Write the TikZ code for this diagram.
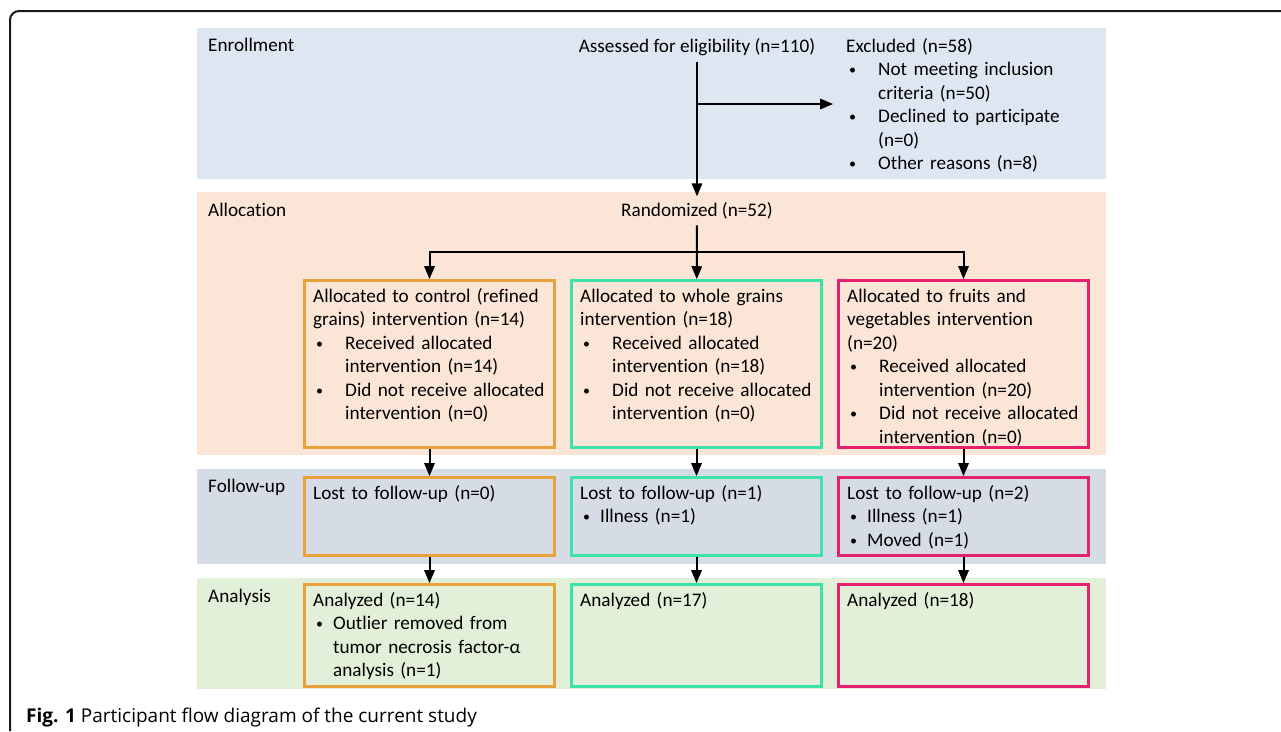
\documentclass[tikz,border=0pt]{standalone}
\usepackage{fontspec}
\setmainfont{Carlito}[Ligatures=NoCommon]
\newfontfamily\capfont{Open Sans}
\usetikzlibrary{shapes,arrows}
\usetikzlibrary{positioning}

\definecolor{enrolbg}{HTML}{DEE7F1}
\definecolor{allocbg}{HTML}{FBE5D6}
\definecolor{followbg}{HTML}{D6DCE5}
\definecolor{analysbg}{HTML}{E2F0D9}
\definecolor{ctrlcol}{HTML}{E9A23B}
\definecolor{wholecol}{HTML}{3DE2A9}
\definecolor{fruitcol}{HTML}{E5206F}

\newcommand{\bulletdot}{\raisebox{1pt}{\fontsize{14}{14}\selectfont•}}
\newcommand{\wbul}{\makebox[32pt][l]{\hspace{3pt}\bulletdot}}
\newcommand{\wind}{\hspace*{32pt}}
\newcommand{\nbul}{\makebox[20pt][l]{\hspace{3pt}\bulletdot}}
\newcommand{\tstrut}{\rule{0pt}{15pt}}

\begin{document}
\begin{tikzpicture}[x=1pt,y=-1pt]
            % flow of participants, one band per stage
            \tikzstyle{lbl} = [inner sep=0pt, font=\fontsize{19.2}{23.5}\selectfont];
            \tikzstyle{txt} = [align=left, text width=250pt, inner sep=0pt, font=\fontsize{19.2}{23.5}\selectfont];
            \tikzstyle{block} = [draw, rectangle, line width=3pt, minimum width=250pt, inner sep=0pt];
            \tikzstyle{arr} = [-triangle 45, line width=2pt];

            \useasboundingbox (0,0) rectangle (1281,731);
            \draw[line width=2pt, rounded corners=9pt, black!90] (10,731) -- (10,11) -- (1281,11);

            \fill[enrolbg] (197,28) rectangle (1106,179);
            \fill[allocbg] (197,192) rectangle (1106,455);
            \fill[followbg] (197,469) rectangle (1106,564);
            \fill[analysbg] (197,578) rectangle (1106,689);

            \node[lbl,anchor=base west] (enrol) at (208,51.5) {Enrollment};
            \node[lbl,anchor=base west] (alloc) at (208,216.5) {Allocation};
            \node[lbl,anchor=base west] (follow) at (208,492.5) {Follow-up};
            \node[lbl,anchor=base west] (analys) at (208,602) {Analysis};

            \node[lbl,anchor=base,inner sep=6pt] (assess) at (697,52) {Assessed for eligibility (n=110)};
            \node[txt,inner xsep=13pt,anchor=north west] (excl) at (833,37) {\tstrut Excluded (n=58)\\
              \wbul Not meeting inclusion\\
              \wind criteria (n=50)\\
              \wbul Declined to participate\\
              \wind (n=0)\\
              \wbul Other reasons (n=8)};
            \node[lbl,anchor=base,inner sep=6pt] (rand) at (697,216.5) {Randomized (n=52)};

            % allocation
            \node[block,draw=ctrlcol,minimum height=167pt] (a1) at (429.5,364) {};
            \node[block,draw=wholecol,minimum height=167pt] (a2) at (696.5,364) {};
            \node[block,draw=fruitcol,minimum height=167pt] (a3) at (963.5,364) {};
            \node[txt,below right=8pt and 10pt of a1.north west] (a1t) {\tstrut Allocated to control (refined\\
              grains) intervention (n=14)\\
              \wbul Received allocated\\
              \wind intervention (n=14)\\
              \wbul Did not receive allocated\\
              \wind intervention (n=0)};
            \node[txt,below right=8pt and 10pt of a2.north west] (a2t) {\tstrut Allocated to whole grains\\
              intervention (n=18)\\
              \wbul Received allocated\\
              \wind intervention (n=18)\\
              \wbul Did not receive allocated\\
              \wind intervention (n=0)};
            \node[txt,below right=8pt and 10pt of a3.north west] (a3t) {\tstrut Allocated to fruits and\\
              vegetables intervention\\
              (n=20)\\
              \wbul Received allocated\\
              \wind intervention (n=20)\\
              \wbul Did not receive allocated\\
              \wind intervention (n=0)};

            % follow-up
            \node[block,draw=ctrlcol,minimum height=78pt] (f1) at (429.5,516.5) {};
            \node[block,draw=wholecol,minimum height=78pt] (f2) at (696.5,516.5) {};
            \node[block,draw=fruitcol,minimum height=78pt] (f3) at (963.5,516.5) {};
            \node[txt,below right=8pt and 10pt of f1.north west] (f1t) {\tstrut Lost to follow-up (n=0)};
            \node[txt,below right=8pt and 10pt of f2.north west] (f2t) {\tstrut Lost to follow-up (n=1)\\
              \nbul Illness (n=1)};
            \node[txt,below right=8pt and 10pt of f3.north west] (f3t) {\tstrut Lost to follow-up (n=2)\\
              \nbul Illness (n=1)\\
              \nbul Moved (n=1)};

            % analysis
            \node[block,draw=ctrlcol,minimum height=102pt] (s1) at (429.5,635.5) {};
            \node[block,draw=wholecol,minimum height=102pt] (s2) at (696.5,635.5) {};
            \node[block,draw=fruitcol,minimum height=102pt] (s3) at (963.5,635.5) {};
            \node[txt,below right=8pt and 10pt of s1.north west] (s1t) {\tstrut Analyzed (n=14)\\
              \nbul Outlier removed from\\
              \hspace*{20pt}tumor necrosis factor-α\\
              \hspace*{20pt}analysis (n=1)};
            \node[txt,below right=8pt and 10pt of s2.north west] (s2t) {\tstrut Analyzed (n=17)};
            \node[txt,below right=8pt and 10pt of s3.north west] (s3t) {\tstrut Analyzed (n=18)};

            \coordinate (split) at (697,104);
            \coordinate (fork) at (697,252);

            \draw[arr] (assess) -- (rand);
            \draw[arr] (split) -- (split -| excl.west);
            \draw[arr] (rand) -- (a2);
            \draw[arr] (fork) -| (a1);
            \draw[arr] (fork) -| (a3);
            \draw[arr] (a1) -- (f1);
            \draw[arr] (a2) -- (f2);
            \draw[arr] (a3) -- (f3);
            \draw[arr] (f1) -- (s1);
            \draw[arr] (f2) -- (s2);
            \draw[arr] (f3) -- (s3);

            \node[anchor=base west,inner sep=0pt,font=\capfont\fontsize{19}{23}\selectfont] (cap) at (26,722) {\textbf{Fig. 1} Participant flow diagram of the current study};
        \end{tikzpicture}
\end{document}
